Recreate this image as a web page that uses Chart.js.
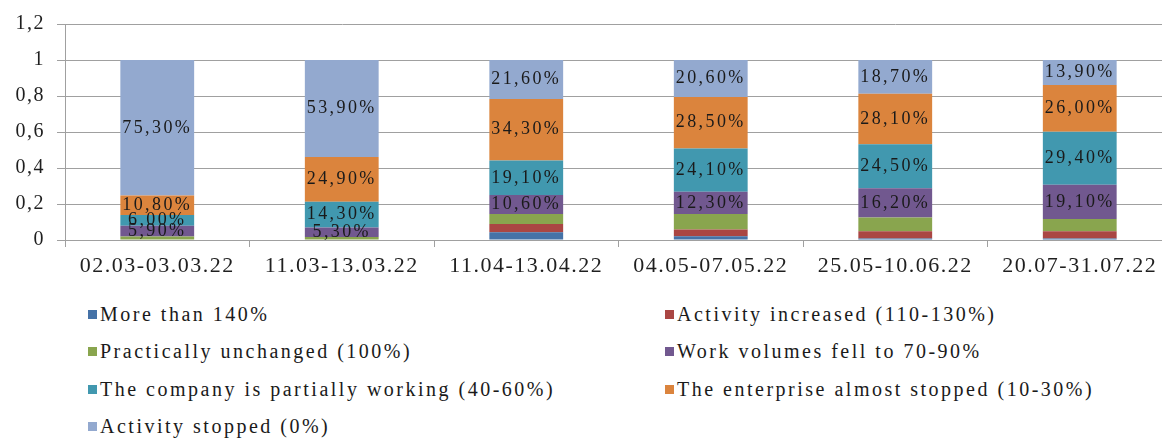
<!DOCTYPE html>
<html>
<head>
<meta charset="utf-8">
<script src="https://cdn.jsdelivr.net/npm/chart.js@4"></script>
<style>
    html, body { margin: 0; padding: 0; background: #fff; overflow: hidden; }
    #wrap { position: relative; width: 1162px; height: 438px; overflow: hidden; }
    #chartBox { position: absolute; left: 0; top: 0; width: 1172px; height: 292px; }
    #legend {
        position: absolute; left: 88px; top: 296px;
        display: grid; grid-template-columns: 577px auto; grid-auto-rows: 37.3px;
        font-family: 'Liberation Serif', serif; font-size: 20px; letter-spacing: 2.5px; color: #1a1a1a;
    }
    .item { display: flex; align-items: center; white-space: nowrap; }
    .swatch { width: 9px; height: 9px; margin-right: 3px; flex: none; }
</style>
</head>
<body>
<div id="wrap">
    <div id="chartBox"><canvas id="surveyChart"></canvas></div>
    <div id="legend"></div>
</div>
<script>
    // survey periods (categories)
    var periods = ['02.03-03.03.22', '11.03-13.03.22', '11.04-13.04.22', '04.05-07.05.22', '25.05-10.06.22', '20.07-31.07.22'];

    // share of enterprises, in percent
    var moreThan140   = [0,    0,    4.3,  2.1,  0.9,  0.9];
    var increased     = [0,    0,    4.6,  3.7,  3.9,  3.9];
    var unchanged     = [2.0,  1.6,  5.5,  8.7,  7.7,  6.8];
    var fellTo70      = [5.9,  5.3,  10.6, 12.3, 16.2, 19.1];
    var partially     = [6.0,  14.3, 19.1, 24.1, 24.5, 29.4];
    var almostStopped = [10.8, 24.9, 34.3, 28.5, 28.1, 26.0];
    var stopped       = [75.3, 53.9, 21.6, 20.6, 18.7, 13.9];

    var seriesNames = [
        'More than 140%',
        'Activity increased (110-130%)',
        'Practically unchanged (100%)',
        'Work volumes fell to 70-90%',
        'The company is partially working (40-60%)',
        'The enterprise almost stopped (10-30%)',
        'Activity stopped (0%)'
    ];
    var seriesValues = [moreThan140, increased, unchanged, fellTo70, partially, almostStopped, stopped];
    var seriesColors = ['#4572A7', '#AA4643', '#89A54E', '#71588F', '#4198AF', '#DB843D', '#93A9CF'];
    var showValues   = [false, false, false, true, true, true, true];

    var yTickLabels = ['0', '0,2', '0,4', '0,6', '0,8', '1', '1,2'];

    var fontFamily = "'Liberation Serif', 'Times New Roman', serif";
    var gridColor = '#a0a0a0';

    // wider text spacing, like the original renderer
    var tickSpacing = {
        id: 'tickSpacing',
        beforeDraw: function(chart) {
            chart.ctx.letterSpacing = '1.5px';
        }
    };

    var barValueLabels = {
        id: 'barValueLabels',
        afterDatasetsDraw: function(chart) {
            var ctx = chart.ctx;
            ctx.save();
            ctx.font = '18px ' + fontFamily;
            ctx.letterSpacing = '2.4px';
            ctx.fillStyle = '#1a1a1a';
            ctx.textAlign = 'center';
            ctx.textBaseline = 'middle';
            chart.data.datasets.forEach(function(ds, i) {
                if (!showValues[i]) return;
                chart.getDatasetMeta(i).data.forEach(function(bar, j) {
                    var text = seriesValues[i][j].toFixed(2).replace('.', ',') + '%';
                    ctx.fillText(text, bar.x, (bar.y + bar.base) / 2);
                });
            });
            ctx.restore();
        }
    };

    var datasets = seriesNames.map(function(name, i) {
        return {
            label: name,
            data: seriesValues[i].map(function(v) { return v / 100; }),
            backgroundColor: seriesColors[i],
            borderWidth: 0
        };
    });

    var chart = new Chart(document.getElementById('surveyChart'), {
        type: 'bar',
        data: { labels: periods, datasets: datasets },
        options: {
            responsive: true,
            maintainAspectRatio: false,
            animation: false,
            layout: { padding: { top: 11, right: 0, bottom: 0, left: 0 } },
            datasets: { bar: { barPercentage: 0.4, categoryPercentage: 1 } },
            plugins: { legend: { display: false }, tooltip: { enabled: false } },
            scales: {
                x: {
                    stacked: true,
                    grid: { drawOnChartArea: false, color: gridColor, tickLength: 7 },
                    border: { color: gridColor },
                    ticks: { font: { family: fontFamily, size: 22 }, color: '#1f1f1f', padding: 6, maxRotation: 0 },
                    afterFit: function(scale) { scale.height = 52; }
                },
                y: {
                    stacked: true,
                    min: 0,
                    max: 1.2,
                    grid: { color: gridColor, tickLength: 8 },
                    border: { color: gridColor },
                    ticks: {
                        stepSize: 0.2,
                        font: { family: fontFamily, size: 20 },
                        color: '#1f1f1f',
                        padding: 12,
                        callback: function(value, index) { return yTickLabels[index]; }
                    },
                    afterFit: function(scale) { scale.width = 65; }
                }
            }
        },
        plugins: [tickSpacing, barValueLabels]
    });

    // legend in two columns, like the original
    var legend = document.getElementById('legend');
    chart.data.datasets.forEach(function(ds) {
        var item = document.createElement('div');
        item.className = 'item';
        item.innerHTML = '<span class="swatch" style="background:' + ds.backgroundColor + '"></span>' + ds.label;
        legend.appendChild(item);
    });
</script>
</body>
</html>
